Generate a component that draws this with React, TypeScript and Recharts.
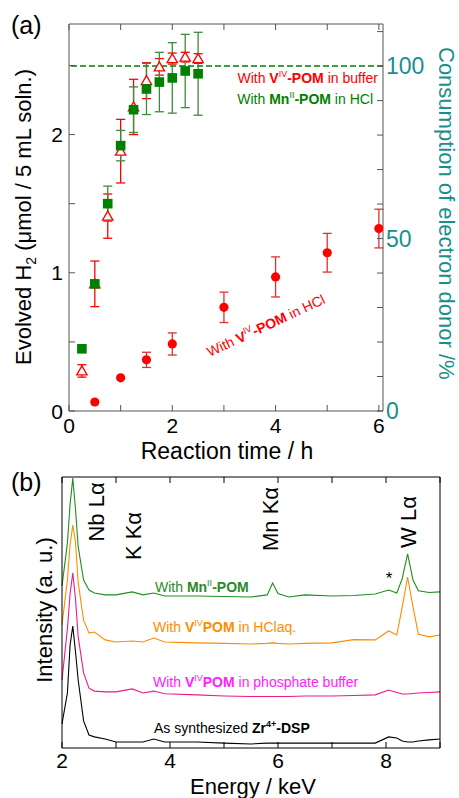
import React from 'react';
import {
  ComposedChart,
  LineChart,
  Line,
  Scatter,
  ErrorBar,
  XAxis,
  YAxis,
  ReferenceLine,
} from 'recharts';

const FONT = '"Liberation Sans", Arial, sans-serif';
const AXIS_A = '#555555';
const TEAL = '#178f8f';
const RED = '#ff0000';
const GREEN = '#008000';
const GREEN_ERR = '#3d8b3d';

// (a) evolved H2 vs reaction time
const timeHCl = [0.5, 1, 1.5, 2, 3, 4, 5, 6];
const h2HCl = [0.065, 0.24, 0.37, 0.485, 0.75, 0.97, 1.145, 1.32];
const errHCl = [0, 0, 0.055, 0.08, 0.11, 0.145, 0.14, 0.14];

const timeBuf = [0.25, 0.5, 0.75, 1, 1.25, 1.5, 1.75, 2, 2.25, 2.5];
const h2Buf = [0.29, 0.92, 1.41, 1.88, 2.2, 2.39, 2.49, 2.55, 2.56, 2.55];
const errBuf = [0.045, 0.165, 0.16, 0.23, 0.2, 0.13, 0.06, 0.04, 0.035, 0.035];

const timeMn = [0.25, 0.5, 0.75, 1, 1.25, 1.5, 1.75, 2, 2.25, 2.5];
const h2Mn = [0.45, 0.92, 1.5, 1.92, 2.18, 2.33, 2.38, 2.41, 2.46, 2.44];
const errMn = [0, 0, 0.127, 0.11, 0.165, 0.185, 0.215, 0.255, 0.265, 0.3];

const fullConsumption = 100;

const timeTicks = [0, 1, 2, 3, 4, 5, 6];
const timeLabels = [0, 2, 4, 6];
const h2Ticks = [0, 0.5, 1, 1.5, 2, 2.5];
const h2Labels = [0, 1, 2];
const donorTicks = [0, 10, 20, 30, 40, 50, 60, 70, 80, 90, 100, 110];
const donorLabels = [0, 50, 100];

// (b) XRF spectra
const energyKeV = [2.0, 2.1, 2.15, 2.2, 2.25, 2.3, 2.4, 2.5, 2.6, 2.8, 3.0, 3.3, 3.5, 3.7, 3.9, 4.5, 5.0, 5.5, 5.8, 5.9, 6.0, 6.2, 6.5, 7.0, 7.4, 7.8, 8.05, 8.2, 8.3, 8.4, 8.5, 8.6, 8.8, 9.0];
const mnSpec = [59.8, 75.6, 90, 99.6, 88, 74.2, 62.0, 58.3, 57.2, 56.5, 56.5, 57.6, 56.5, 57.2, 56.1, 56.1, 55.9, 55.7, 56.5, 60.9, 57.0, 55.7, 56.5, 56.1, 56.3, 56.8, 58.3, 57.2, 62.5, 71.6, 62.0, 58.0, 57.4, 57.6];
const hclSpec = [45.4, 62, 75, 82.3, 76, 61, 47.2, 42.4, 42.8, 39.9, 39.1, 39.5, 39.1, 40.6, 39.1, 38.8, 38.6, 38.4, 38.6, 38.8, 38.6, 38.4, 38.6, 38.8, 40.0, 39.9, 43.2, 41.7, 52, 63.1, 52.0, 42.0, 41.0, 41.7];
const bufSpec = [25.1, 44, 57, 64.6, 55, 41.0, 27.7, 22.1, 21.0, 20.7, 20.7, 21.8, 20.3, 21.0, 20.0, 19.6, 19.2, 19.0, 19.0, 19.0, 19.0, 19.0, 19.2, 19.2, 19.4, 19.6, 21.4, 20.5, 19.9, 19.9, 20.1, 20.3, 20.5, 20.7];
const dspSpec = [8.9, 20.3, 38, 45, 35.5, 25, 10, 4.8, 4.1, 3.3, 2.2, 2.2, 2.2, 3.3, 2.2, 2.2, 1.8, 1.5, 1.8, 1.8, 1.8, 1.8, 1.8, 1.8, 1.8, 1.8, 4.1, 3.7, 2.6, 2.2, 2.2, 2.6, 3.0, 3.3];

const energyTicks = [2, 3, 4, 5, 6, 7, 8, 9];
const energyLabels = [2, 4, 6, 8];

const toPoints = (xs: number[], ys: number[], es: number[]) =>
  xs.map((x, i) => ({ x, y: ys[i], e: es[i] }));

const hclPoints = toPoints(timeHCl, h2HCl, errHCl);
const bufPoints = toPoints(timeBuf, h2Buf, errBuf);
const mnPoints = toPoints(timeMn, h2Mn, errMn);

const spectra = energyKeV.map((e, i) => ({
  e,
  mn: mnSpec[i],
  hcl: hclSpec[i],
  buf: bufSpec[i],
  dsp: dspSpec[i],
}));

// inward ticks, labels only where asked
const bottomTick = (labels: number[], size: number, stroke: string, gap = 1) => (p: any) => (
  <g>
    <line x1={p.x} y1={p.y} x2={p.x} y2={p.y - 6} stroke={stroke} />
    {labels.includes(p.payload.value) && (
      <text x={p.x} y={p.y + size + gap} textAnchor="middle" fontSize={size} fontFamily={FONT} fill="#000">
        {p.payload.value}
      </text>
    )}
  </g>
);
const topTick = (stroke: string) => (p: any) => (
  <line x1={p.x} y1={p.y} x2={p.x} y2={p.y + 6} stroke={stroke} />
);
const leftTick = (labels: number[], size: number, stroke: string) => (p: any) => (
  <g>
    <line x1={p.x} y1={p.y} x2={p.x + 6} y2={p.y} stroke={stroke} />
    {labels.includes(p.payload.value) && (
      <text x={p.x - 6} y={p.y + size * 0.36} textAnchor="end" fontSize={size} fontFamily={FONT} fill="#000">
        {p.payload.value}
      </text>
    )}
  </g>
);
const rightTick = (labels: number[], size: number, stroke: string, color: string) => (p: any) => (
  <g>
    <line x1={p.x} y1={p.y} x2={p.x - 6} y2={p.y} stroke={stroke} />
    {labels.includes(p.payload.value) && (
      <text x={p.x + 3} y={p.y + size * 0.36} textAnchor="start" fontSize={size} fontFamily={FONT} fill={color}>
        {p.payload.value}
      </text>
    )}
  </g>
);

const circleShape = (p: any) => <circle cx={p.cx} cy={p.cy} r={4.6} fill={RED} />;
const squareShape = (p: any) => <rect x={p.cx - 4.8} y={p.cy - 4.8} width={9.6} height={9.6} fill={GREEN} />;
const triangleShape = (p: any) => (
  <path
    d={`M${p.cx},${p.cy - 5} L${p.cx + 5.2},${p.cy + 4} L${p.cx - 5.2},${p.cy + 4} Z`}
    fill="#fff"
    stroke={RED}
    strokeWidth={1.3}
  />
);

function Overlay() {
  return (
    <svg
      width={459}
      height={798}
      style={{ position: 'absolute', left: 0, top: 0, pointerEvents: 'none' }}
      fontFamily={FONT}
    >
      <text x={11} y={34} fontSize={25}>(a)</text>
      <text x={11} y={491} fontSize={25}>(b)</text>

      {/* panel (a) titles */}
      <text x={227} y={459} fontSize={23} textAnchor="middle">Reaction time / h</text>
      <text transform="translate(31,217) rotate(-90)" fontSize={22} textAnchor="middle">
        Evolved H<tspan dy={5} fontSize={14}>2</tspan>
        <tspan dy={-5}> (μmol / 5 mL soln.)</tspan>
      </text>
      <text transform="translate(439,47) rotate(90)" fontSize={22} fill={TEAL}>
        Consumption of electron donor /%
      </text>

      {/* panel (a) annotations */}
      <text x={378} y={83} fontSize={14} textAnchor="end" fill={RED}>
        With <tspan fontWeight="bold">V</tspan>
        <tspan dy={-6} fontSize={9}>IV</tspan>
        <tspan dy={6} fontWeight="bold">-POM</tspan> in buffer
      </text>
      <text x={373} y={104} fontSize={14} textAnchor="end" fill={GREEN}>
        With <tspan fontWeight="bold">Mn</tspan>
        <tspan dy={-6} fontSize={9}>II</tspan>
        <tspan dy={6} fontWeight="bold">-POM</tspan> in HCl
      </text>
      <text transform="translate(268,330) rotate(-25)" fontSize={14} textAnchor="middle" fill={RED}>
        With <tspan fontWeight="bold">V</tspan>
        <tspan dy={-6} fontSize={9}>IV</tspan>
        <tspan dy={6} fontWeight="bold">-POM</tspan> in HCl
      </text>

      {/* panel (b) titles */}
      <text x={253} y={793.5} fontSize={22} textAnchor="middle">Energy / keV</text>
      <text transform="translate(52,610) rotate(-90)" fontSize={22} textAnchor="middle">
        Intensity (a. u.)
      </text>

      {/* line labels */}
      <text transform="translate(104,512) rotate(-90)" fontSize={22} textAnchor="middle">Nb Lα</text>
      <text transform="translate(141,536) rotate(-90)" fontSize={22} textAnchor="middle">K Kα</text>
      <text transform="translate(278,519) rotate(-90)" fontSize={22} textAnchor="middle">Mn Kα</text>
      <text transform="translate(416,522) rotate(-90)" fontSize={22} textAnchor="middle">W Lα</text>
      <text x={389} y={584} fontSize={17} textAnchor="middle">*</text>

      <text x={155} y={592} fontSize={14} fill="#2a8a2a">
        With <tspan fontWeight="bold">Mn</tspan>
        <tspan dy={-6} fontSize={9}>II</tspan>
        <tspan dy={6} fontWeight="bold">-POM</tspan>
      </text>
      <text x={153} y={632} fontSize={14} fill="#ff8c00">
        With <tspan fontWeight="bold">V</tspan>
        <tspan dy={-6} fontSize={9}>IV</tspan>
        <tspan dy={6} fontWeight="bold">POM</tspan> in HClaq.
      </text>
      <text x={153} y={687} fontSize={14} fill="#ff22ff">
        With <tspan fontWeight="bold">V</tspan>
        <tspan dy={-6} fontSize={9}>IV</tspan>
        <tspan dy={6} fontWeight="bold">POM</tspan> in phosphate buffer
      </text>
      <text x={154} y={733} fontSize={14} fill="#000">
        As synthesized <tspan fontWeight="bold">Zr</tspan>
        <tspan dy={-6} fontSize={9} fontWeight="bold">4+</tspan>
        <tspan dy={6} fontWeight="bold">-DSP</tspan>
      </text>
    </svg>
  );
}

function H2Chart() {
  return (
    <ComposedChart width={459} height={470} margin={{ top: 0, right: 0, bottom: 0, left: 0 }}>
      <XAxis
        xAxisId="bottom"
        type="number"
        dataKey="x"
        domain={[0, 6.08]}
        ticks={timeTicks}
        interval={0}
        height={59}
        tickSize={0}
        tickMargin={0}
        stroke={AXIS_A}
        tick={bottomTick(timeLabels, 21, AXIS_A)}
        allowDataOverflow
      />
      <XAxis
        xAxisId="top"
        orientation="top"
        type="number"
        dataKey="x"
        domain={[0, 6.08]}
        ticks={timeTicks}
        interval={0}
        height={24}
        tickSize={0}
        tickMargin={0}
        stroke={AXIS_A}
        tick={topTick(AXIS_A)}
        allowDataOverflow
      />
      <YAxis
        yAxisId="left"
        type="number"
        domain={[0, 2.8]}
        ticks={h2Ticks}
        interval={0}
        width={69}
        tickSize={0}
        tickMargin={0}
        stroke={AXIS_A}
        tick={leftTick(h2Labels, 21, AXIS_A)}
        allowDataOverflow
      />
      <YAxis
        yAxisId="right"
        orientation="right"
        type="number"
        domain={[0, 112.2]}
        ticks={donorTicks}
        interval={0}
        width={76}
        tickSize={0}
        tickMargin={0}
        stroke={AXIS_A}
        tick={rightTick(donorLabels, 23, AXIS_A, TEAL)}
        allowDataOverflow
      />
      <ReferenceLine
        xAxisId="bottom"
        yAxisId="right"
        y={fullConsumption}
        stroke={GREEN}
        strokeWidth={1.5}
        strokeDasharray="6 3"
      />
      <Scatter
        xAxisId="bottom"
        yAxisId="left"
        data={bufPoints}
        dataKey="y"
        shape={triangleShape}
        isAnimationActive={false}
      >
        <ErrorBar dataKey="e" direction="y" width={4.5} stroke={RED} strokeWidth={1.3} />
      </Scatter>
      <Scatter
        xAxisId="bottom"
        yAxisId="left"
        data={mnPoints}
        dataKey="y"
        shape={squareShape}
        isAnimationActive={false}
      >
        <ErrorBar dataKey="e" direction="y" width={4.5} stroke={GREEN_ERR} strokeWidth={1.3} />
      </Scatter>
      <Scatter
        xAxisId="bottom"
        yAxisId="left"
        data={hclPoints}
        dataKey="y"
        shape={circleShape}
        isAnimationActive={false}
      >
        <ErrorBar dataKey="e" direction="y" width={4.5} stroke="#e03030" strokeWidth={1.3} />
      </Scatter>
    </ComposedChart>
  );
}

function SpectraChart() {
  return (
    <LineChart width={459} height={338} data={spectra} margin={{ top: 0, right: 0, bottom: 0, left: 0 }}>
      <XAxis
        xAxisId="bottom"
        type="number"
        dataKey="e"
        domain={[2, 9]}
        ticks={energyTicks}
        interval={0}
        height={50}
        tickSize={0}
        tickMargin={0}
        stroke="#000"
        tick={bottomTick(energyLabels, 21, '#000', -1)}
      />
      <XAxis
        xAxisId="top"
        orientation="top"
        type="number"
        dataKey="e"
        domain={[2, 9]}
        ticks={energyTicks}
        interval={0}
        height={17}
        tickSize={0}
        tickMargin={0}
        stroke="#000"
        tick={topTick('#000')}
      />
      <YAxis yAxisId="left" type="number" domain={[0, 100]} width={62} tick={false} tickLine={false} stroke="#000" />
      <YAxis yAxisId="right" orientation="right" type="number" domain={[0, 100]} width={19} tick={false} tickLine={false} stroke="#000" />
      <Line xAxisId="bottom" yAxisId="left" type="linear" dataKey="dsp" stroke="#000" strokeWidth={1.1} dot={false} isAnimationActive={false} />
      <Line xAxisId="bottom" yAxisId="left" type="linear" dataKey="buf" stroke="#ee1a8c" strokeWidth={1.1} dot={false} isAnimationActive={false} />
      <Line xAxisId="bottom" yAxisId="left" type="linear" dataKey="hcl" stroke="#ff8c00" strokeWidth={1.1} dot={false} isAnimationActive={false} />
      <Line xAxisId="bottom" yAxisId="left" type="linear" dataKey="mn" stroke="#1e8f1e" strokeWidth={1.1} dot={false} isAnimationActive={false} />
    </LineChart>
  );
}

export default function App() {
  return (
    <div
      style={{
        position: 'absolute',
        left: 0,
        top: 0,
        width: 459,
        height: 798,
        background: '#fff',
        fontFamily: FONT,
        overflow: 'hidden',
      }}
    >
      <div style={{ position: 'absolute', left: 0, top: 0 }}>
        <H2Chart />
      </div>
      <div style={{ position: 'absolute', left: 0, top: 460 }}>
        <SpectraChart />
      </div>
      <Overlay />
    </div>
  );
}
